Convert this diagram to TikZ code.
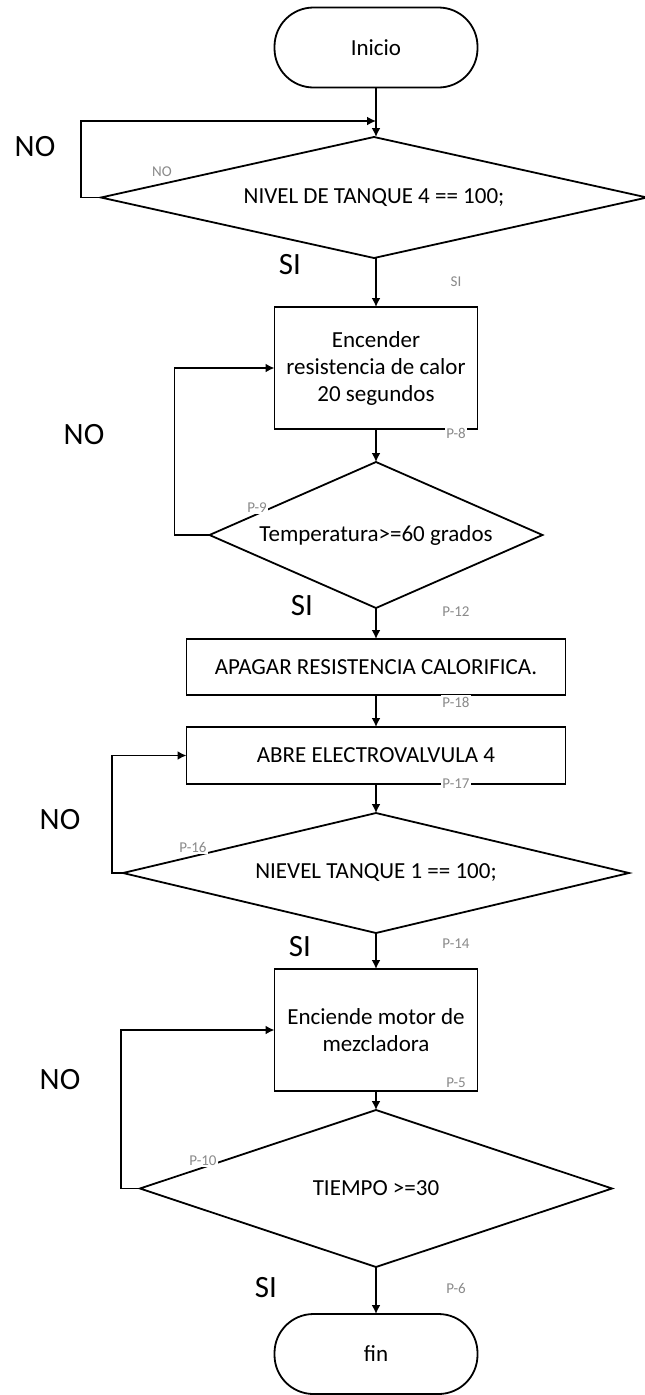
\documentclass[tikz,border=0pt]{standalone}
\usepackage{fontspec}
\setmainfont{Carlito}
\usetikzlibrary{arrows.meta,shapes.geometric}
\definecolor{labgray}{HTML}{8A8A8A}
\newcommand\fbody{\fontsize{23}{27}\selectfont}
\newcommand\fbig{\fontsize{31}{35}\selectfont}
\newcommand\fsmall{\fontsize{15}{17}\selectfont}
\tikzset{
  base/.style={draw, line width=1.8pt, inner sep=0pt, outer sep=0pt, font=\fbody, align=center},
  term/.style={base, rectangle, rounded corners=39pt, minimum width=203pt, minimum height=80pt},
  proc/.style={base, rectangle},
  dec/.style={base, diamond},
  arr/.style={line width=1.8pt, -{Latex[length=9pt,width=9pt]}},
  plab/.style={fill=white, text=labgray, font=\fsmall, inner sep=1.5pt},
  biglab/.style={font=\fbig, inner sep=0pt},
}
\begin{document}
\begin{tikzpicture}[x=1pt,y=-1pt]
\useasboundingbox (0,0) rectangle (645,1395);
% nodes
\node[term] (ini) at (376,47.5) {Inicio};
\node[dec, aspect=4.5, minimum width=546pt, minimum height=121pt] (d1) at (374,197.5) {NIVEL DE TANQUE 4 == 100;};
\node[proc, minimum width=203pt, minimum height=122pt] (b2) at (376,368) {Encender\\resistencia de calor\\20 segundos};
\node[dec, aspect=2.28, minimum width=333pt, minimum height=146pt] (d2) at (376,535) {Temperatura>=60 grados};
\node[proc, minimum width=379pt, minimum height=56pt] (b3) at (376,667) {APAGAR RESISTENCIA CALORIFICA.};
\node[proc, minimum width=379pt, minimum height=57pt] (b4) at (376,755.5) {ABRE ELECTROVALVULA 4};
\node[dec, aspect=4.2, minimum width=506pt, minimum height=120pt] (d3) at (376,873) {NIEVEL TANQUE 1 == 100;};
\node[proc, minimum width=203pt, minimum height=122pt] (b5) at (376,1030) {Enciende motor de\\mezcladora};
\node[dec, aspect=3.0, minimum width=472pt, minimum height=157pt] (d4) at (376,1188.5) {TIEMPO >=30};
\node[term] (fin) at (376,1354) {fin};
\coordinate (j1) at (376,121);
% main flow
\draw[arr] (ini.south) -- (ini.south |- d1.north);
\draw[arr] (b2.north |- d1.south) -- (b2.north);
\draw[arr] (b2.south) -- (d2.north);
\draw[arr] (d2.south) -- (b3.north);
\draw[arr] (b3.south) -- (b4.north);
\draw[arr] (b4.south) -- (d3.north);
\draw[arr] (d3.south) -- (b5.north);
\draw[arr] (b5.south) -- (d4.north);
\draw[arr] (d4.south) -- (fin.north);
% loops
\draw[arr] (d1.west) -- ++(-20,0) |- (j1);
\draw[arr] (d2.west) -- ++(-35,0) |- (b2.west);
\draw[arr] (d3.west) -- ++(-11,0) |- (b4.west);
\draw[arr] (d4.west) -- ++(-19,0) |- (b5.west);
% big labels
\node[biglab] (no1) at (35,147) {NO};
\node[biglab] (no2) at (84,435) {NO};
\node[biglab] (no3) at (60,820) {NO};
\node[biglab] (no4) at (60,1080) {NO};
\node[biglab] (si1) at (290,265) {SI};
\node[biglab] (si2) at (302,606) {SI};
\node[biglab] (si3) at (300,947) {SI};
\node[biglab] (si4) at (266,1288) {SI};
% small labels
\node[plab] (sno) at (162,172) {NO};
\node[plab] (ssi) at (456,282) {SI};
\node[plab] (p8) at (456,433) {P-8};
\node[plab] (p9) at (257,508) {P-9};
\node[plab] (p12) at (456,612) {P-12};
\node[plab] (p18) at (456,702) {P-18};
\node[plab] (p17) at (456,784) {P-17};
\node[plab] (p16) at (193,847) {P-16};
\node[plab] (p14) at (456,944) {P-14};
\node[plab] (p5) at (456,1083) {P-5};
\node[plab] (p10) at (203,1161) {P-10};
\node[plab] (p6) at (456,1288) {P-6};
\end{tikzpicture}
\end{document}
